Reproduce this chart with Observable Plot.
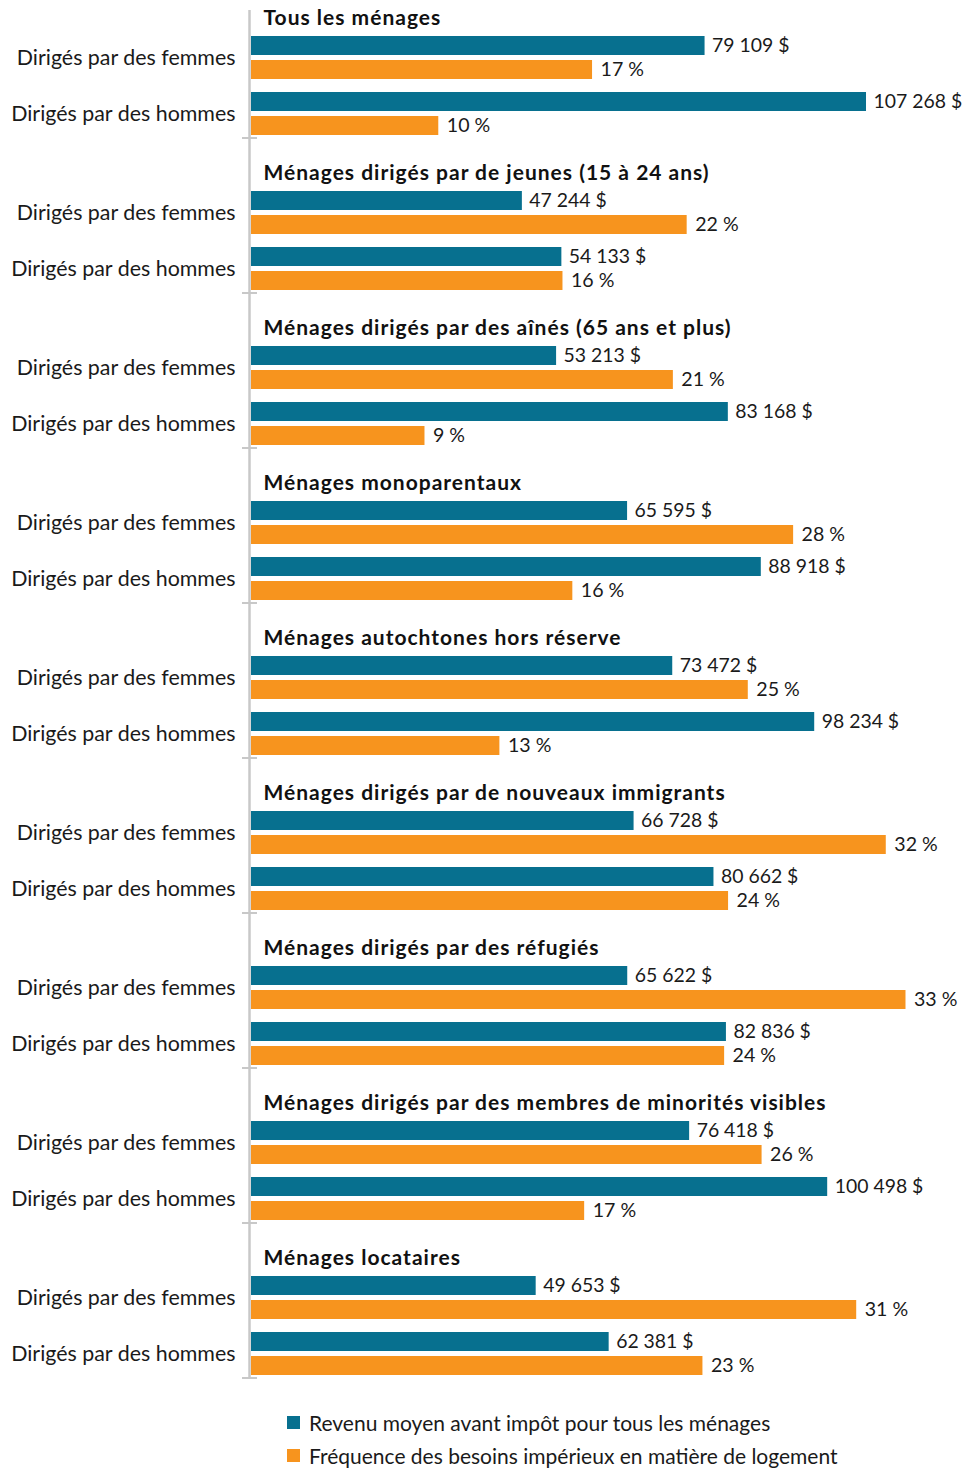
<!DOCTYPE html>
<html lang="fr">
<head>
<meta charset="utf-8">
<script src="https://cdn.jsdelivr.net/npm/d3@7"></script>
<script src="https://cdn.jsdelivr.net/npm/@observablehq/plot@0.6"></script>
<style>
  html, body { margin: 0; padding: 0; background: #fff; }
  body { width: 963px; font-family: Lato, "Open Sans", sans-serif; color: #1a1a1a; }
  #legend { margin-top: 1px; padding-left: 287px; font-size: 21px; }
  .row { display: flex; align-items: center; height: 33px; }
  .sw { width: 13px; height: 13px; margin-right: 9px; flex: none; }
  svg g[aria-label="y-axis tick label"] text { font-size: 21.4px; }
</style>
</head>
<body>
<div id="chart"></div>
<div id="legend"></div>
<script>
const groups = [
  "Tous les ménages",
  "Ménages dirigés par de jeunes (15 à 24 ans)",
  "Ménages dirigés par des aînés (65 ans et plus)",
  "Ménages monoparentaux",
  "Ménages autochtones hors réserve",
  "Ménages dirigés par de nouveaux immigrants",
  "Ménages dirigés par des réfugiés",
  "Ménages dirigés par des membres de minorités visibles",
  "Ménages locataires"
];
const sexes = ["Dirigés par des femmes", "Dirigés par des hommes"];
const series = [
  "Revenu moyen avant impôt pour tous les ménages",
  "Fréquence des besoins impérieux en matière de logement"
];
const revenuFemmes = [79109, 47244, 53213, 65595, 73472, 66728, 65622, 76418, 49653];
const revenuHommes = [107268, 54133, 83168, 88918, 98234, 80662, 82836, 100498, 62381];
const besoinsFemmes = [17.3, 22.1, 21.4, 27.5, 25.2, 32.2, 33.2, 25.9, 30.7];
const besoinsHommes = [9.5, 15.8, 8.8, 16.3, 12.6, 24.2, 24.0, 16.9, 22.9];

const REVENU_MAX = 120000;  // full length of the shared axis in dollars
const BESOINS_MAX = 34.9;   // full length of the shared axis in percent

const TEAL = "#07708f";
const ORANGE = "#f7941e";

const revenuRows = [];
const besoinsRows = [];
groups.forEach((g, i) => {
  revenuRows.push({group: g, sexe: sexes[0], value: revenuFemmes[i]});
  revenuRows.push({group: g, sexe: sexes[1], value: revenuHommes[i]});
  besoinsRows.push({group: g, sexe: sexes[0], value: besoinsFemmes[i]});
  besoinsRows.push({group: g, sexe: sexes[1], value: besoinsHommes[i]});
});

const loc = d3.formatLocale({decimal: ",", thousands: "\u00a0", grouping: [3], currency: ["", "\u00a0$"]});
const fmtRevenu = v => loc.format(",")(v) + "\u00a0$";
const fmtBesoins = v => Math.round(v) + "\u00a0%";

const chart = Plot.plot({
  width: 963,
  height: 1405,
  marginLeft: 251,
  marginRight: 24,
  marginTop: 10,
  marginBottom: 0,
  style: {fontFamily: "Lato, 'Open Sans', sans-serif", fontSize: "20px", color: "#1a1a1a", background: "#fff", overflow: "visible"},
  x: {domain: [0, 1], axis: null},
  fy: {domain: groups, axis: null, padding: 0},
  y: {domain: sexes, paddingInner: 0.228, paddingOuter: 0, insetTop: 25, insetBottom: 29, tickSize: 0, tickPadding: 16, label: null},
  marks: [
    Plot.ruleX(groups.slice(0, -1), {fy: d => d, x: 0, dx: -2, stroke: "#c8c8c8", strokeWidth: 2.5}),
    Plot.ruleX(groups.slice(-1), {fy: d => d, x: 0, dx: -2, stroke: "#c8c8c8", strokeWidth: 2.5, insetBottom: 27}),
    Plot.ruleY(groups, {fy: d => d, y: () => sexes[1], x1: 0, x2: 0, dy: 24, insetLeft: -9, insetRight: -6, stroke: "#c8c8c8", strokeWidth: 2}),
    Plot.barX(revenuRows, {fy: "group", y: "sexe", x: d => d.value / REVENU_MAX, fill: TEAL, insetBottom: 24}),
    Plot.barX(besoinsRows, {fy: "group", y: "sexe", x: d => d.value / BESOINS_MAX, fill: ORANGE, insetTop: 24}),
    Plot.text(revenuRows, {fy: "group", y: "sexe", x: d => d.value / REVENU_MAX, text: d => fmtRevenu(d.value), textAnchor: "start", dx: 7, dy: -12, fill: "#1a1a1a", fontSize: 19.4}),
    Plot.text(besoinsRows, {fy: "group", y: "sexe", x: d => d.value / BESOINS_MAX, text: d => fmtBesoins(d.value), textAnchor: "start", dx: 8, dy: 12, fill: "#1a1a1a", fontSize: 19.6}),
    Plot.text(groups, {fy: d => d, text: d => d, frameAnchor: "top-left", lineAnchor: "top", dx: 12, dy: 0, fontWeight: "bold", fontSize: 21, fill: "#111"})
  ]
});
chart.querySelectorAll('[font-weight="bold"] text, text[font-weight="bold"]').forEach(t => {
  t.style.letterSpacing = "1px";
});
document.getElementById("chart").appendChild(chart);

const legend = document.getElementById("legend");
[[series[0], TEAL], [series[1], ORANGE]].forEach(([label, color]) => {
  const row = document.createElement("div");
  row.className = "row";
  const sw = document.createElement("span");
  sw.className = "sw";
  sw.style.background = color;
  const t = document.createElement("span");
  t.textContent = label;
  row.appendChild(sw);
  row.appendChild(t);
  legend.appendChild(row);
});
</script>
</body>
</html>
